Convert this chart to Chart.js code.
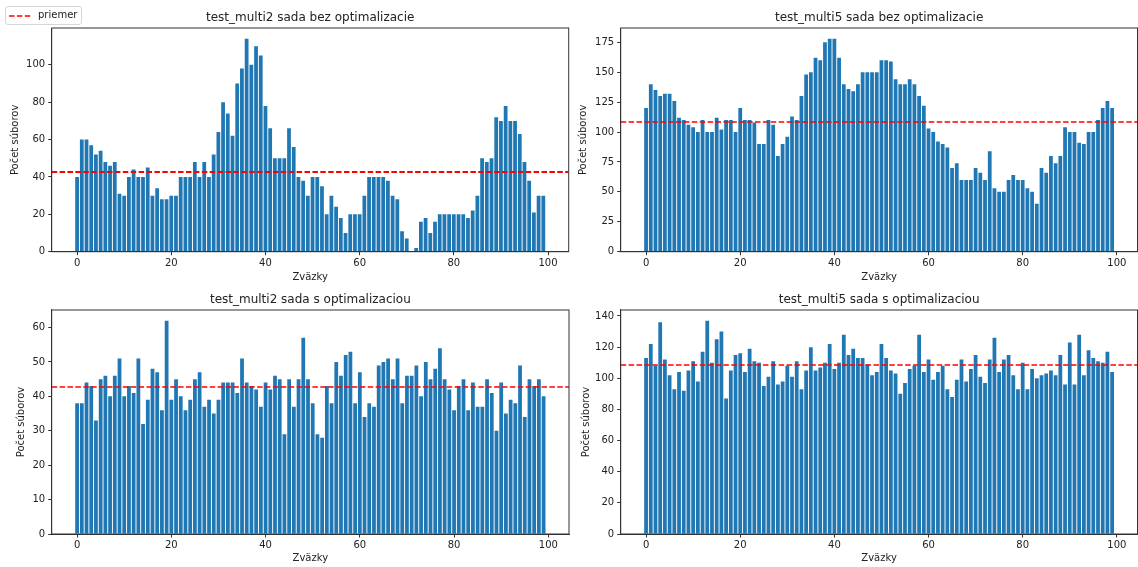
<!DOCTYPE html>
<html>
<head>
<meta charset="utf-8">
<script src="https://cdn.jsdelivr.net/npm/chart.js@4.4.0/dist/chart.umd.min.js"></script>
<style>
  body { margin: 0; background: #fff; }
  #page { position: relative; width: 1138px; height: 567px; overflow: hidden; background: #fff; font-family: "DejaVu Sans", sans-serif; }
  #page canvas { position: absolute; }
  #legend {
    position: absolute; left: 5px; top: 6px; width: 75px; height: 17px;
    border: 1px solid #d6d6d6; border-radius: 3px; background: rgba(255,255,255,0.9);
    font-size: 10px; color: #222; z-index: 2;
  }
  #legend svg { position: absolute; left: 3px; top: 7px; }
  #legend span { position: absolute; left: 32px; top: 2px; }
</style>
</head>
<body>
<div id="page">
  <canvas id="c0"></canvas>
  <canvas id="c1"></canvas>
  <canvas id="c2"></canvas>
  <canvas id="c3"></canvas>
  <div id="legend">
    <svg width="22" height="4"><line x1="0" y1="2" x2="22" y2="2" stroke="#ff0000" stroke-width="1.5" stroke-dasharray="5.5 2.4"/></svg>
    <span>priemer</span>
  </div>
</div>
<script>
// pocet suborov na zvazok, citane z obrazka
const multi2Bez = [40,60,60,57,52,54,48,46,48,31, 30,40,44,40,40,45,30,34,28,28,
  30,30,40,40,40,48,40,48,40,52, 64,80,74,62,90,98,114,100,110,105,
  78,66,50,50,50,66,56,40,38,30, 40,40,35,20,30,24,18,10,20,20,
  20,30,40,40,40,40,38,30,28,11, 7,0,2,16,18,10,16,20,20,20,
  20,20,20,18,22,30,50,48,50,72, 70,78,70,70,63,48,38,21,30,30];

const multi5Bez = [120,140,135,130,132,132,126,112,110,106, 104,100,110,100,100,112,102,110,110,100,
  120,110,110,108,90,90,110,106,80,90, 96,113,110,130,148,150,162,160,175,178,
  178,162,140,136,134,140,150,150,150,150, 160,160,159,144,140,140,144,140,130,122,
  103,100,92,90,87,70,74,60,60,60, 70,66,60,84,53,50,50,60,64,60,
  60,53,50,40,70,66,80,74,80,104, 100,100,91,90,100,100,110,120,126,120];

const multi2S = [38,38,44,43,33,45,46,40,46,51, 40,43,41,51,32,39,48,47,36,62,
  39,45,40,36,39,45,47,37,39,35, 39,44,44,44,41,51,44,43,42,37,
  44,42,46,45,29,45,37,45,57,45, 38,29,28,43,38,50,46,52,53,38,
  47,34,38,37,49,50,51,45,51,38, 46,46,49,40,50,45,48,54,45,42,
  36,43,45,36,44,37,37,45,41,30, 44,35,39,38,49,34,45,43,45,40];

const multi5S = [113,122,108,136,112,102,93,104,92,105, 111,98,117,137,110,125,130,87,105,115,
  116,104,119,111,110,95,101,111,96,98, 108,101,111,93,105,120,105,107,110,122,
  106,110,128,115,119,113,113,109,102,104, 122,113,105,103,90,97,106,108,128,104,
  112,99,104,108,93,88,99,112,98,106, 115,101,97,112,126,104,112,115,102,93,
  110,93,106,100,102,103,105,102,115,96, 123,96,128,102,118,113,111,110,117,104];

const titles = [
  'test_multi2 sada bez optimalizacie',
  'test_multi5 sada bez optimalizacie',
  'test_multi2 sada s optimalizaciou',
  'test_multi5 sada s optimalizaciou'
];
const seriesList = [multi2Bez, multi5Bez, multi2S, multi5S];
const meanValues = [42.6, 108.4, 42.7, 108.6];

// popisky osi
const xTicks = [0, 20, 40, 60, 80, 100];
const yTicksList = [
  [0, 20, 40, 60, 80, 100],
  [0, 25, 50, 75, 100, 125, 150, 175],
  [0, 10, 20, 30, 40, 50, 60],
  [0, 20, 40, 60, 80, 100, 120, 140]
];

// rozmiestnenie panelov na stranke (px)
const panels = [
  { left: 0,   top: 0,   w: 575, h: 290, area: { l: 51.7,  t: 28,  r: 568.7,  b: 251.7 }, titleY: 17.5, yTitleX: 15,  xTitleY: 277.7 },
  { left: 572, top: 0,   w: 566, h: 290, area: { l: 620.7, t: 28,  r: 1137.5, b: 251.7 }, titleY: 17.5, yTitleX: 583, xTitleY: 277.7 },
  { left: 0,   top: 290, w: 575, h: 277, area: { l: 51.7,  t: 310, r: 569,    b: 534 },   titleY: 300,  yTitleX: 21,  xTitleY: 558 },
  { left: 572, top: 290, w: 566, h: 277, area: { l: 620.7, t: 310, r: 1137.5, b: 534 },   titleY: 300,  yTitleX: 586, xTitleY: 558 }
];

const FONT = 'DejaVu Sans';
const textColor = '#222';
const axisColor = '#333';

// ramik okolo grafu (matplotlib spines)
const framePlugin = {
  id: 'frame',
  afterDraw(chart) {
    const { ctx, chartArea: a } = chart;
    ctx.save();
    ctx.strokeStyle = axisColor;
    ctx.lineWidth = 1;
    ctx.strokeRect(a.left, a.top, a.right - a.left, a.bottom - a.top);
    ctx.restore();
  }
};

var makeChart = function (idx) {
  const p = panels[idx];
  const values = seriesList[idx];
  const canvas = document.getElementById('c' + idx);
  canvas.width = p.w;
  canvas.height = p.h;
  canvas.style.left = p.left + 'px';
  canvas.style.top = p.top + 'px';

  const n = values.length;
  const xMin = -0.4 - 0.05 * (n - 1 + 0.8);
  const xMax = n - 1 + 0.4 + 0.05 * (n - 1 + 0.8);
  const yMax = Math.max(...values) * 1.05;

  const yBoxW = p.area.l - p.left;
  const xBoxH = (p.top + p.h) - p.area.b;
  const titlePadTop = p.titleY - p.top - 7.2;
  const titlePadBottom = p.area.t - p.top - titlePadTop - 14.4;

  return new Chart(canvas, {
    type: 'bar',
    data: {
      datasets: [{
        type: 'line',
        label: 'priemer',
        data: [{ x: xMin, y: meanValues[idx] }, { x: xMax, y: meanValues[idx] }],
        borderColor: '#ff0000',
        borderWidth: idx === 0 ? 2 : 1.5,
        borderDash: [5.5, 2.4],
        pointRadius: 0,
        order: 0
      }, {
        label: titles[idx],
        data: values.map((v, i) => ({ x: i, y: v })),
        backgroundColor: '#1f77b4',
        borderWidth: 0,
        barPercentage: 0.8,
        categoryPercentage: 1.0,
        order: 1
      }]
    },
    options: {
      responsive: false,
      animation: false,
      events: [],
      layout: {
        autoPadding: false,
        padding: { left: 0, top: 0, bottom: 0, right: (p.left + p.w) - p.area.r }
      },
      plugins: {
        legend: { display: false },
        tooltip: { enabled: false },
        title: {
          display: true,
          text: titles[idx],
          fullSize: false,
          color: textColor,
          font: { family: FONT, size: 12, weight: 'normal', lineHeight: 1.2 },
          padding: { top: titlePadTop, bottom: titlePadBottom }
        }
      },
      scales: {
        x: {
          type: 'linear',
          min: xMin,
          max: xMax,
          offset: false,
          grid: { display: true, offset: false, drawOnChartArea: false, drawTicks: true, tickLength: 3.5, tickColor: axisColor },
          border: { display: true, color: axisColor },
          ticks: { maxRotation: 0, padding: 2, color: textColor, font: { family: FONT, size: 10 } },
          afterBuildTicks: s => { s.ticks = xTicks.map(v => ({ value: v })); },
          title: {
            display: true,
            text: 'Zväzky',
            color: textColor,
            font: { family: FONT, size: 10, lineHeight: 1.2 },
            padding: { top: 0, bottom: (p.top + p.h) - p.xTitleY - 6 }
          },
          afterFit: s => { s.height = xBoxH; }
        },
        y: {
          min: 0,
          max: yMax,
          grid: { display: true, drawOnChartArea: false, drawTicks: true, tickLength: 3.5, tickColor: axisColor },
          border: { display: true, color: axisColor },
          ticks: { padding: 3, color: textColor, font: { family: FONT, size: 10 } },
          afterBuildTicks: s => { s.ticks = yTicksList[idx].map(v => ({ value: v })); },
          title: {
            display: true,
            text: 'Počet súborov',
            color: textColor,
            font: { family: FONT, size: 10, lineHeight: 1.2 },
            padding: { top: p.yTitleX - p.left - 6, bottom: 0 }
          },
          afterFit: s => { s.width = yBoxW; }
        }
      }
    },
    plugins: [framePlugin]
  });
};

for (let i = 0; i < panels.length; i++) {
  makeChart(i);
}
</script>
</body>
</html>
